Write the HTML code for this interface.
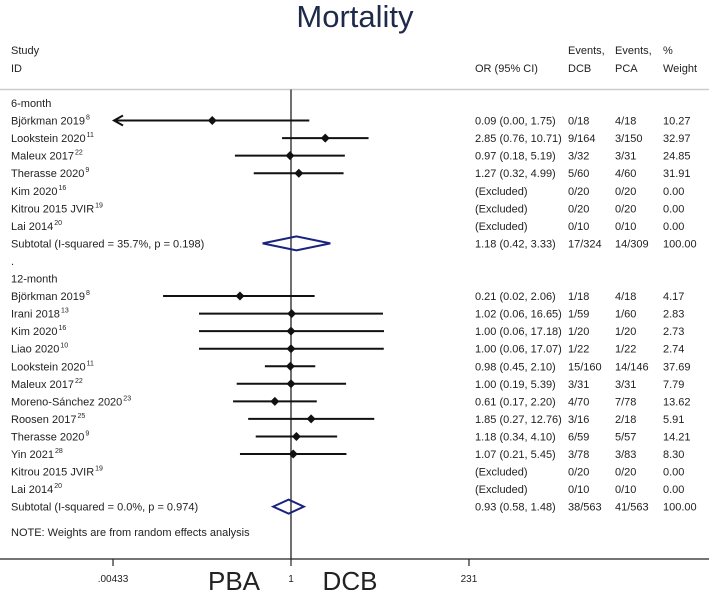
<!DOCTYPE html>
<html><head><meta charset="utf-8"><style>
body{margin:0;background:#fff;}
svg text{font-family:"Liberation Sans",Arial,sans-serif;}
</style></head><body>
<svg id="chart" width="709" height="590" viewBox="0 0 709 590" xmlns="http://www.w3.org/2000/svg">
<text x="355" y="27" font-size="31" fill="#1f2a4a" text-anchor="middle">Mortality</text>
<g font-size="11" fill="#222">
<text x="11" y="54">Study</text>
<text x="11" y="72">ID</text>
<text x="475" y="72">OR (95% CI)</text>
<text x="568" y="54">Events,</text>
<text x="568" y="72">DCB</text>
<text x="615" y="54">Events,</text>
<text x="615" y="72">PCA</text>
<text x="663" y="54">%</text>
<text x="663" y="72">Weight</text>
</g>
<line x1="0" y1="89.5" x2="709" y2="89.5" stroke="#ccc" stroke-width="1.5"/>
<g id="rows"></g>
<line x1="0" y1="559" x2="709" y2="559" stroke="#222" stroke-width="1.2"/>
<text x="234" y="590" font-size="26" fill="#222" text-anchor="middle">PBA</text>
<text x="350" y="590" font-size="26" fill="#222" text-anchor="middle">DCB</text>
</svg>
<script>
const studyLabels=["Björkman 2019","Lookstein 2020","Maleux 2017","Therasse 2020","Kim 2020","Kitrou 2015 JVIR","Lai 2014","Björkman 2019","Irani 2018","Kim 2020","Liao 2020","Lookstein 2020","Maleux 2017","Moreno-Sánchez 2020","Roosen 2017","Therasse 2020","Yin 2021","Kitrou 2015 JVIR","Lai 2014"];
const studyRefs=["8","11","22","9","16","19","20","8","13","16","10","11","22","23","25","9","28","19","20"];
const studyGroup=[0,0,0,0,0,0,0,1,1,1,1,1,1,1,1,1,1,1,1];
const orValues=[0.09,2.85,0.97,1.27,null,null,null,0.21,1.02,1.00,1.00,0.98,1.00,0.61,1.85,1.18,1.07,null,null];
const ciLow=[0.00,0.76,0.18,0.32,null,null,null,0.02,0.06,0.06,0.06,0.45,0.19,0.17,0.27,0.34,0.21,null,null];
const ciHigh=[1.75,10.71,5.19,4.99,null,null,null,2.06,16.65,17.18,17.07,2.10,5.39,2.20,12.76,4.10,5.45,null,null];
const eventsDCB=["0/18","9/164","3/32","5/60","0/20","0/20","0/10","1/18","1/59","1/20","1/22","15/160","3/31","4/70","3/16","6/59","3/78","0/20","0/10"];
const eventsPCA=["4/18","3/150","3/31","4/60","0/20","0/20","0/10","4/18","1/60","1/20","1/22","14/146","3/31","7/78","2/18","5/57","3/83","0/20","0/10"];
const weights=["10.27","32.97","24.85","31.91","0.00","0.00","0.00","4.17","2.83","2.73","2.74","37.69","7.79","13.62","5.91","14.21","8.30","0.00","0.00"];
const groupNames=["6-month","12-month"];
const subOR=[1.18,0.93];
const subLow=[0.42,0.58];
const subHigh=[3.33,1.48];
const subText=["Subtotal  (I-squared = 35.7%, p = 0.198)","Subtotal  (I-squared = 0.0%, p = 0.974)"];
const subDCB=["17/324","38/563"];
const subPCA=["14/309","41/563"];
const subWeight=["100.00","100.00"];
const tickValues=[0.00433,1,231];
const tickLabels=[".00433","1","231"];

const NS="http://www.w3.org/2000/svg";
const X0=291,PPD=75.3,XMIN=114;
function xs(v){return X0+Math.log10(v)*PPD;}
function rowY(k){return 103+17.55*k;}
const g=document.getElementById('rows');
function mk(tag,attrs,parent){const e=document.createElementNS(NS,tag);for(const k in attrs)e.setAttribute(k,attrs[k]);(parent||g).appendChild(e);return e;}
function txt(x,y,s,name,opts){const t=mk('text',Object.assign({x:x,y:y+4,'font-size':11,fill:'#222'},opts||{}));t.textContent=s;


return t;}
// vertical null line
const vl=mk('line',{x1:xs(1),y1:89.5,x2:xs(1),y2:559,stroke:'#222','stroke-width':1.3});


let k=0;
for(let gi=0;gi<2;gi++){
  if(gi===1){txt(11,rowY(k),".","separator-dot");k++;}
  txt(11,rowY(k),groupNames[gi],"group-label");k++;
  for(let i=0;i<studyLabels.length;i++){
    if(studyGroup[i]!==gi)continue;
    const y=rowY(k);
    const t=txt(11,y,studyLabels[i],"study-label");
    const sp=document.createElementNS(NS,'tspan');sp.setAttribute('font-size','7');sp.setAttribute('dy','-5');sp.setAttribute('dx','1');sp.textContent=studyRefs[i];t.appendChild(sp);
    if(orValues[i]!==null){
      const lo=ciLow[i]>0?xs(ciLow[i]):XMIN;
      const hi=xs(ciHigh[i]);
      const l=mk('line',{x1:Math.max(lo,XMIN),y1:y,x2:hi,y2:y,stroke:'#111','stroke-width':2});
      
      
      if(!(ciLow[i]>0)||lo<XMIN){
        const a=mk('path',{d:`M${XMIN+9},${y-5} L${XMIN},${y} L${XMIN+9},${y+5}`,fill:'none',stroke:'#111','stroke-width':2});
        
        
      }
      const cx=xs(orValues[i]);
      const d=mk('path',{d:`M${cx},${y-4.5} L${cx+4.5},${y} L${cx},${y+4.5} L${cx-4.5},${y}Z`,fill:'#111'});
      
      
      txt(475,y,`${orValues[i].toFixed(2)} (${ciLow[i].toFixed(2)}, ${ciHigh[i].toFixed(2)})`,"or-value");
    } else txt(475,y,"(Excluded)","or-value");
    txt(568,y,eventsDCB[i],"dcb-events");
    txt(615,y,eventsPCA[i],"pca-events");
    txt(663,y,weights[i],"weight-value");
    k++;
  }
  const y=rowY(k);
  txt(11,y,subText[gi],"subtotal-label");
  const a=xs(subLow[gi]),b=xs(subHigh[gi]),c=xs(subOR[gi]);
  const dm=mk('path',{d:`M${a},${y} L${c},${y-7} L${b},${y} L${c},${y+7}Z`,fill:'none',stroke:'#1a237e','stroke-width':2});
  
  
  txt(475,y,`${subOR[gi].toFixed(2)} (${subLow[gi].toFixed(2)}, ${subHigh[gi].toFixed(2)})`,"subtotal-or");
  txt(568,y,subDCB[gi],"subtotal-dcb");
  txt(615,y,subPCA[gi],"subtotal-pca");
  txt(663,y,subWeight[gi],"subtotal-weight");
  k++;
}
txt(11,532,"NOTE: Weights are from random effects analysis","note-text");
for(let i=0;i<tickValues.length;i++){
  const x=xs(tickValues[i]);
  const tl=mk('line',{x1:x,y1:559,x2:x,y2:566,stroke:'#222','stroke-width':1.2});
  
  
  const t=mk('text',{x:x,y:582,'font-size':10,fill:'#222','text-anchor':'middle'});
  t.textContent=tickLabels[i];
  
  
}
</script>
</body></html>
